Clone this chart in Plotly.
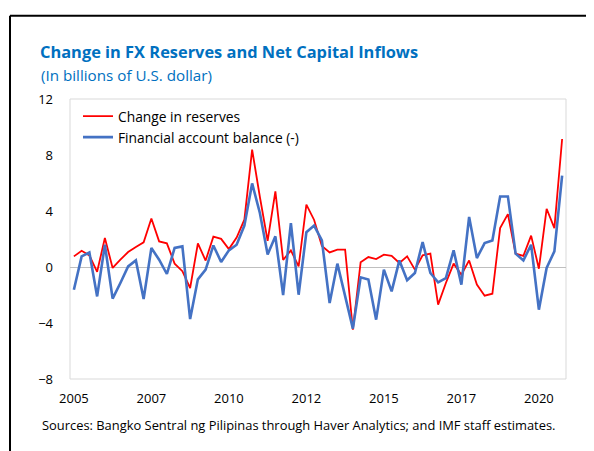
import plotly.graph_objects as go

quarters = [f"{y}Q{q}" for y in range(2005, 2021) for q in range(1, 5)]
tick_labels = ["2005", "2007", "2010", "2012", "2015", "2017", "2020"]

change_in_reserves = [
    0.76, 1.16, 0.83, -0.34, 2.07, -0.07, 0.52, 1.07, 1.43, 1.76,
    3.47, 1.83, 1.69, 0.24, -0.30, -1.50, 1.68, 0.46, 2.17, 2.01,
    1.28, 2.10, 3.38, 8.38, 5.00, 1.86, 5.40, 0.50, 1.19, 0.04,
    4.45, 3.36, 1.50, 1.04, 1.24, 1.24, -4.48, 0.33, 0.71, 0.57,
    0.88, 0.80, 0.29, 0.76, -0.19, 0.83, 0.95, -2.69, -1.14, 0.24,
    -0.55, 0.47, -1.26, -2.05, -1.91, 2.78, 3.78, 0.95, 0.80, 2.24,
    -0.12, 4.16, 2.78, 9.14,
]
financial_account = [
    -1.62, 0.76, 1.04, -2.10, 1.59, -2.26, -1.14, 0.04, 0.47, -2.29,
    1.36, 0.52, -0.50, 1.36, 1.47, -3.72, -0.88, -0.19, 1.54, 0.36,
    1.19, 1.59, 2.96, 5.97, 3.86, 0.90, 2.19, -2.00, 3.14, -1.98,
    2.48, 2.96, 1.90, -2.57, 0.24, -2.05, -4.40, -0.74, -0.90, -3.76,
    -0.19, -1.74, 0.47, -0.95, -0.43, 1.78, -0.43, -1.10, -0.79, 1.19,
    -1.26, 3.57, 0.64, 1.71, 1.90, 5.04, 5.04, 0.95, 0.47, 1.59,
    -3.05, -0.07, 1.12, 6.52,
]

x_idx = list(range(len(quarters)))
tick_idx = list(range(0, len(quarters), 10))

FONT = "'Open Sans', 'Noto Sans', sans-serif"
TITLE_BLUE = "#0070C0"

fig = go.Figure()
fig.add_trace(go.Scatter(
    x=x_idx, y=change_in_reserves, mode="lines", name="Change in reserves",
    line=dict(color="#FF0000", width=1.8), customdata=quarters,
))
fig.add_trace(go.Scatter(
    x=x_idx, y=financial_account, mode="lines", name="Financial account balance (-)",
    line=dict(color="#4472C4", width=2.6), customdata=quarters,
))

# The page body has an 8px margin: figure coords = screen coords - 8
OFF = 8
W, H = 594, 451 - OFF
# plot area on screen: x 70..566, y 99.3..379.3
L = 70 - OFF
R = W - (566 - OFF)
T, B = 99.3 - OFF, 451 - 379.3
PW, PH = W - L - R, H - T - B

def px_x(sx):
    return (sx - OFF - L) / PW

def px_y(sy):
    return (H - B - (sy - OFF)) / PH

fig.update_layout(
    width=W, height=H,
    margin=dict(l=L, r=R, t=T, b=B),
    paper_bgcolor="white", plot_bgcolor="white",
    font=dict(family=FONT, size=13, color="#000000"),
    showlegend=True,
    legend=dict(
        x=px_x(78), y=px_y(101), xanchor="left", yanchor="top",
        bgcolor="rgba(0,0,0,0)", font=dict(family=FONT, size=13.8, color="#000000"),
        tracegroupgap=0, itemwidth=30,
    ),
    title=dict(
        text="<b>Change in FX Reserves and Net Capital Inflows</b>",
        x=(40 - OFF) / W, xanchor="left", xref="container",
        y=1 - (52 - OFF) / H, yanchor="middle", yref="container",
        font=dict(family=FONT, size=16.4, color=TITLE_BLUE),
    ),
    xaxis=dict(
        range=[-0.5, len(quarters) - 0.5],
        tickmode="array", tickvals=tick_idx, ticktext=tick_labels,
        showgrid=False, zeroline=False, showline=False, ticks="",
        tickfont=dict(size=13, color="#000000"), ticklabelstandoff=10,
    ),
    yaxis=dict(
        range=[-8, 12], tickmode="linear", tick0=-8, dtick=4,
        showgrid=False, zeroline=True, zerolinecolor="#BFBFBF", zerolinewidth=1,
        showline=False, ticks="",
        tickfont=dict(size=13, color="#000000"), ticklabelstandoff=16,
    ),
    annotations=[
        dict(text="(In billions of U.S. dollar)", xref="paper", yref="paper",
             x=px_x(39), y=px_y(75), xanchor="left", yanchor="middle",
             showarrow=False, font=dict(family=FONT, size=15.2, color=TITLE_BLUE)),
        dict(text="Sources: Bangko Sentral ng Pilipinas through Haver Analytics; and IMF staff estimates.",
             xref="paper", yref="paper", x=px_x(40), y=px_y(425),
             xanchor="left", yanchor="middle", showarrow=False,
             font=dict(family=FONT, size=12.9, color="#000000")),
    ],
    shapes=[
        dict(type="rect", xref="paper", yref="paper", x0=0, x1=1, y0=0, y1=1,
             line=dict(color="#D9D9D9", width=1), layer="below"),
        dict(type="line", xref="paper", yref="paper",
             x0=px_x(10), x1=px_x(10), y0=px_y(16), y1=px_y(460),
             line=dict(color="#000000", width=2)),
        dict(type="line", xref="paper", yref="paper",
             x0=px_x(10), x1=px_x(610), y0=px_y(16), y1=px_y(16),
             line=dict(color="#000000", width=2)),
    ],
)

fig.write_html("out.html")
